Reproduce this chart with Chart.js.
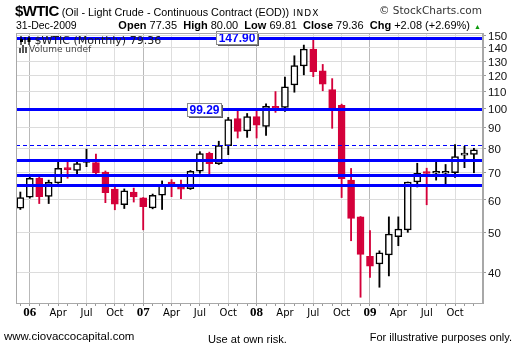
<!DOCTYPE html>
<html><head><meta charset="utf-8">
<script src="https://cdn.jsdelivr.net/npm/chart.js@4"></script>
<style>
html,body{margin:0;padding:0;background:#fff;}
#wrap{position:relative;width:520px;height:355px;overflow:hidden;font-family:'Liberation Sans',Arial,sans-serif;color:#000;}
canvas{position:absolute;left:0;top:0;}
.t{position:absolute;white-space:nowrap;line-height:1;}
</style></head><body>
<div id="wrap">
<canvas id="c" width="520" height="355"></canvas>
<div class="t" style="left:15px;top:3px;font-size:15px;font-weight:bold;letter-spacing:-0.6px;">$WTIC<span style="font-weight:normal;font-size:10.8px;letter-spacing:0"> (Oil - Light Crude - Continuous Contract (EOD))</span><span style="font-weight:normal;font-size:9px;letter-spacing:1px;font-family:'DejaVu Sans'"> INDX</span></div>
<div class="t" style="right:38px;top:5px;font-size:10.5px;font-family:'DejaVu Sans';color:#333;">&copy; StockCharts.com</div>
<div class="t" style="left:16px;top:20px;font-size:10.5px;">31-Dec-2009</div>
<div class="t" style="right:50px;top:20px;font-size:11px;"><b>Open</b> 77.35 &nbsp;<b>High</b> 80.00 &nbsp;<b>Low</b> 69.81 &nbsp;<b>Close</b> 79.36 &nbsp;<b>Chg</b> +2.08 (+2.69%)</div>
<div class="t" style="left:474px;top:23px;font-size:7px;color:#0a9a0a;">&#9650;</div>
<div class="t" style="left:19px;top:35px;font-size:11px;font-family:'DejaVu Sans';color:#222;"><svg width="12" height="9" style="vertical-align:-1px"><path d="M2 0V9M6 1V8M10 0V9" stroke="#000" stroke-width="1.2"/><rect x="1" y="3" width="3" height="3" fill="#000"/><rect x="8.5" y="2" width="3" height="4" fill="#000"/></svg> $WTIC (Monthly) 79.36</div>
<div class="t" style="left:19px;top:45px;font-size:9px;font-family:'DejaVu Sans';color:#444;"><svg width="10" height="8" style="vertical-align:-1px"><rect x="0" y="3" width="2" height="5" fill="#555"/><rect x="3" y="0" width="2" height="8" fill="#555"/><rect x="6" y="2" width="2" height="6" fill="#555"/></svg>Volume undef</div>
<div class="t" style="left:4px;top:331px;font-size:11.5px;">www.ciovaccocapital.com</div>
<div class="t" style="left:208px;top:334px;font-size:11.1px;">Use at own risk.</div>
<div class="t" style="right:8px;top:332px;font-size:11px;">For illustrative purposes only.</div>
</div>
<script>
// Months Dec 2005 .. Dec 2009 (index 0..48)
const months = ['2005-12',
 '2006-01','2006-02','2006-03','2006-04','2006-05','2006-06','2006-07','2006-08','2006-09','2006-10','2006-11','2006-12',
 '2007-01','2007-02','2007-03','2007-04','2007-05','2007-06','2007-07','2007-08','2007-09','2007-10','2007-11','2007-12',
 '2008-01','2008-02','2008-03','2008-04','2008-05','2008-06','2008-07','2008-08','2008-09','2008-10','2008-11','2008-12',
 '2009-01','2009-02','2009-03','2009-04','2009-05','2009-06','2009-07','2009-08','2009-09','2009-10','2009-11','2009-12'];
const openV  = [57.3, 60.9,67.8,61.2,66.0,71.7,70.7,73.9,73.9,70.1,63.7,58.4,62.7, 60.7,57.4,61.6,65.9,64.5,63.9,70.4,77.8,73.4,81.2,94.4,88.1, 95.5,90.4,100.8,100.4,113.9,126.5,139.0,123.2,110.9,101.6,67.0,54.6, 43.8,42.0,44.2,48.9,50.8,66.3,70.1,69.6,69.6,69.8,77.0,77.35];
const highV  = [62.7, 68.5,68.3,67.0,74.5,74.5,74.0,79.6,77.4,70.5,64.5,63.8,64.1, 60.8,62.0,66.7,67.2,67.0,70.7,78.5,78.3,83.2,95.0,98.8,97.1, 99.7,102.5,109.7,119.0,133.9,142.1,147.9,127.6,117.9,102.3,71.5,54.7, 50.6,45.2,54.6,54.6,66.3,73.6,71.6,74.8,73.1,81.7,80.9,80.00];
const lowV   = [56.9, 60.6,58.8,58.8,65.8,67.7,68.5,72.2,68.5,59.1,56.8,57.2,59.3, 50.8,57.1,56.9,61.1,60.4,63.6,69.6,68.3,73.1,77.2,84.7,85.0, 84.7,85.9,97.7,98.2,109.3,120.4,119.2,110.2,89.4,60.8,47.8,34.9, 39.0,36.9,39.3,46.5,50.1,64.5,58.4,67.0,64.6,68.0,71.8,69.81];
const closeV = [60.8, 67.7,61.1,66.2,71.5,71.0,73.5,74.4,69.7,62.5,58.6,63.1,61.0, 57.8,61.6,65.1,65.5,63.7,70.4,77.7,73.4,81.2,93.8,87.9,95.5, 91.0,101.0,99.9,112.6,126.7,139.0,122.6,114.3,100.3,67.5,54.1,44.3, 41.5,44.7,49.6,51.0,66.3,69.6,69.5,69.9,70.4,76.4,77.3,79.36];
const yTicks = [40,50,60,70,80,90,100,110,120,130,140,150];
const xTickIndex = [1,4,7,10,13,16,19,22,25,28,31,34,37,40,43,46];
const xTickText  = ['06','Apr','Jul','Oct','07','Apr','Jul','Oct','08','Apr','Jul','Oct','09','Apr','Jul','Oct'];
const solidLevels = [147.90, 99.29, 75.0, 69.1, 65.3];
const dashedLevels = [81.6];
const levelLabels = ['147.90','99.29'];
const levelLabelValues = [147.90, 99.29];

const UP_LINE = '#000000', DOWN = '#d4003a', BLUE = '#0000ff';
const isUp = i => closeV[i] >= openV[i];

const bodies = {
  label:'body', order:0, grouped:false, barThickness:7, minBarLength:2,
  data: months.map((m,i)=>({x:i, y:[openV[i], closeV[i]]})),
  backgroundColor: months.map((m,i)=> isUp(i) ? '#ffffff' : DOWN),
  borderColor: months.map((m,i)=> isUp(i) ? UP_LINE : DOWN),
  borderWidth: 1.5, borderSkipped:false
};
const wicks = {
  label:'wick', order:1, grouped:false, barThickness:1.2,
  data: months.map((m,i)=>({x:i, y:[lowV[i], highV[i]]})),
  backgroundColor: months.map((m,i)=> isUp(i) ? UP_LINE : DOWN),
  borderWidth:0
};

const framePlugin = {
  id:'frame',
  beforeDraw(chart){
    const {ctx} = chart;
    ctx.save(); ctx.fillStyle='#fff'; ctx.fillRect(0,0,chart.width,chart.height); ctx.restore();
  },
  afterDraw(chart){
    const {ctx, chartArea:a} = chart;
    ctx.save(); ctx.strokeStyle='#a8a8a8'; ctx.lineWidth=1;
    ctx.strokeRect(Math.round(a.left)+0.5, Math.round(a.top)+0.5, Math.round(a.right-a.left)-1, Math.round(a.bottom-a.top));
    ctx.restore();
  }
};
const levelPlugin = {
  id:'levels',
  afterDatasetsDraw(chart){
    const {ctx, chartArea:a, scales:{x, y}} = chart;
    ctx.save();
    ctx.beginPath(); ctx.rect(a.left, a.top, a.right-a.left, a.bottom-a.top); ctx.clip();
    ctx.strokeStyle = BLUE;
    ctx.lineWidth = 3;
    solidLevels.forEach(v=>{ const py=Math.round(y.getPixelForValue(v))+0.5; ctx.beginPath(); ctx.moveTo(a.left,py); ctx.lineTo(a.right,py); ctx.stroke(); });
    ctx.lineWidth = 1; ctx.setLineDash([4,3]);
    dashedLevels.forEach(v=>{ const py=Math.round(y.getPixelForValue(v))+0.5; ctx.beginPath(); ctx.moveTo(a.left,py); ctx.lineTo(a.right,py); ctx.stroke(); });
    ctx.restore();
    // value labels
    const anchors = [22.9, 19.4]; // label centre, in month-index units
    ctx.save();
    ctx.font = 'bold 12px "Liberation Sans", Arial, sans-serif';
    ctx.textAlign='center'; ctx.textBaseline='middle';
    levelLabels.forEach((txt,k)=>{
      const cx = x.getPixelForValue(anchors[k]);
      const cy = y.getPixelForValue(levelLabelValues[k]);
      const w = Math.round(ctx.measureText(txt).width + 4), h = 13;
      const bx = Math.round(cx - w/2)+0.5, by = Math.round(cy - h/2)+0.5;
      ctx.fillStyle='#5a5a5a'; ctx.fillRect(bx+1.5, by+1.5, w, h);
      ctx.fillStyle='#ffffff'; ctx.fillRect(bx, by, w, h);
      ctx.strokeStyle='#8a8a8a'; ctx.lineWidth=1; ctx.strokeRect(bx, by, w, h);
      ctx.fillStyle=BLUE; ctx.fillText(txt, bx + w/2, by + h/2 + 1);
    });
    ctx.restore();
  }
};

new Chart(document.getElementById('c'), {
  type:'bar',
  data:{ datasets:[bodies, wicks] },
  options:{
    responsive:false, animation:false, devicePixelRatio:1,
    layout:{ padding:{ left:16, top:33, right:0, bottom:0 } },
    plugins:{ legend:{display:false}, tooltip:{enabled:false} },
    scales:{
      x:{
        type:'linear', min:-0.46, max:48.96, offset:false,
        afterBuildTicks: s => { s.ticks = months.map((m,i)=>({value:i})); },
        afterFit: s => { s.height = 52; },
        grid:{ offset:false, drawTicks:true, tickLength:3, tickColor:'#9a9a9a',
          color: c => { const v = c.tick ? c.tick.value : -1; const k = xTickIndex.indexOf(v);
            if (k < 0) return 'rgba(0,0,0,0)'; return (k % 4 === 0) ? '#b9b9b9' : '#dedede'; } },
        border:{ color:'#a8a8a8' },
        ticks:{ autoSkip:false, maxRotation:0, minRotation:0, padding:1, color:'#000',
          callback: (v) => { const k = xTickIndex.indexOf(v); return k < 0 ? '' : xTickText[k]; },
          font: c => { const v = c.tick ? c.tick.value : -1; const k = xTickIndex.indexOf(v);
            return (k >= 0 && k % 4 === 0) ? {family:'"Liberation Serif", serif', weight:'bold', size:13, lineHeight:'12px'}
                                            : {family:'"DejaVu Sans", sans-serif', size:10, lineHeight:'12px'}; } }
      },
      y:{
        type:'logarithmic', position:'right', min:33.8, max:152,
        afterBuildTicks: s => { s.ticks = yTicks.map(v=>({value:v})); },
        afterFit: s => { s.width = 37; },
        grid:{ color:'#dcdcdc', tickLength:3, tickColor:'#9a9a9a' },
        border:{ color:'#a8a8a8' },
        ticks:{ callback: v => String(v), color:'#111', padding:2, labelOffset:1.5,
          font:{ family:'"Liberation Sans", Arial, sans-serif', size:11.5 } }
      }
    }
  },
  plugins:[framePlugin, levelPlugin]
});
</script>
</body></html>
